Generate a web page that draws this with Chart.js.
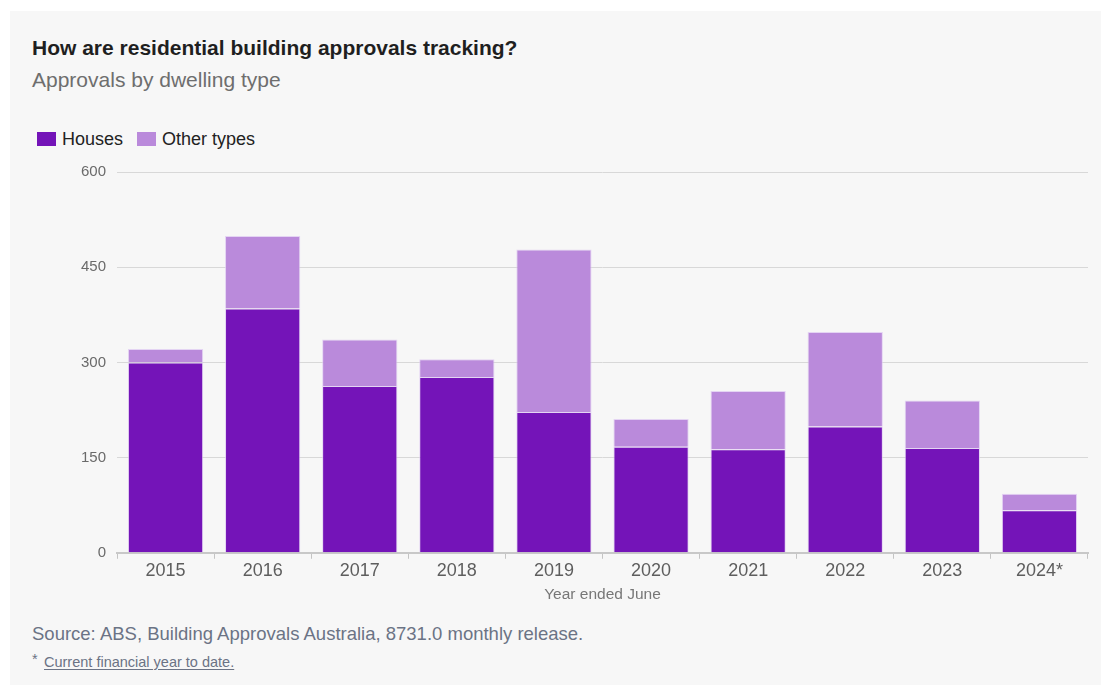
<!DOCTYPE html>
<html lang="en">
<head>
<meta charset="utf-8">
<title>Residential building approvals</title>
<script src="https://cdn.jsdelivr.net/npm/chart.js@4/dist/chart.umd.min.js"></script>
<style>
  html, body { margin: 0; padding: 0; background: #ffffff; }
  body { width: 1103px; height: 688px; position: relative; overflow: hidden;
         font-family: 'Liberation Sans', Arial, sans-serif; }
  .panel { position: absolute; left: 10px; top: 11px; width: 1091px; height: 674px; background: #f7f7f7; }
  .title { position: absolute; left: 32px; top: 36px; font-size: 21px; line-height: 24px;
           font-weight: bold; color: #1f1f1f; white-space: nowrap; }
  .subtitle { position: absolute; left: 32px; top: 68px; font-size: 21px; line-height: 24px;
              color: #6e6e6e; white-space: nowrap; }
  .legend { position: absolute; left: 37px; top: 128px; display: flex; align-items: center;
            font-size: 18px; line-height: 22px; color: #222; white-space: nowrap; }
  .legend .item { display: flex; align-items: center; margin-right: 14px; }
  .legend .swatch { width: 19px; height: 14px; margin-right: 6px; box-sizing: border-box; }
  #chart { position: absolute; left: 0; top: 150px; }
  .source { position: absolute; left: 32px; top: 622px; font-size: 18.5px; line-height: 24px;
            color: #6b7385; white-space: nowrap; }
  .note { position: absolute; left: 32px; top: 653px; font-size: 14.5px; line-height: 18px;
          color: #6b7385; white-space: nowrap; }
  .note .star { display: inline-block; width: 12px; vertical-align: top; margin-top: -3px; }
  .note u { text-underline-offset: 2px; }
</style>
</head>
<body>
<div class="panel"></div>
<div class="title">How are residential building approvals tracking?</div>
<div class="subtitle">Approvals by dwelling type</div>
<div class="legend" id="legend"></div>
<canvas id="chart" width="1103" height="460"></canvas>
<div class="source">Source: ABS, Building Approvals Australia, 8731.0 monthly release.</div>
<div class="note"><span class="star">*</span><u>Current financial year to date.</u></div>

<script>
// Financial years (year ended June); 2024 is year to date
const years = ['2015', '2016', '2017', '2018', '2019', '2020', '2021', '2022', '2023', '2024*'];

// Approvals by dwelling type
const houses     = [300, 385, 263, 277, 222, 167, 163, 199, 165, 67];
const otherTypes = [21, 114, 73, 28, 256, 44, 92, 149, 75, 26];

const yTicks = [0, 150, 300, 450, 600];

const seriesNames  = ['Houses', 'Other types'];
const seriesColors = ['#7414b8', '#ba8adb'];

Chart.defaults.font.family = "'Liberation Sans', Arial, sans-serif";

const chart = new Chart(document.getElementById('chart'), {
  type: 'bar',
  data: {
    labels: years,
    datasets: [
      { label: seriesNames[0], data: houses, backgroundColor: seriesColors[0],
        borderColor: 'rgba(222, 200, 242, 0.75)', borderWidth: 1 },
      { label: seriesNames[1], data: otherTypes, backgroundColor: seriesColors[1],
        borderColor: 'rgba(222, 200, 242, 0.75)', borderWidth: 1 }
    ]
  },
  options: {
    responsive: false,
    animation: false,
    devicePixelRatio: 1,
    layout: { padding: { left: 0, right: 15, top: 22, bottom: 6 } },
    datasets: { bar: { categoryPercentage: 1, barPercentage: 0.775 } },
    plugins: {
      legend: { display: false },
      tooltip: { enabled: false }
    },
    scales: {
      x: {
        stacked: true,
        grid: { display: true, drawOnChartArea: false, drawTicks: true, tickLength: 6, color: '#c4c4c4' },
        border: { display: true, color: '#c8c8c8', width: 2 },
        ticks: { color: '#5e5e5e', font: { size: 18 }, padding: 1 },
        title: { display: true, text: 'Year ended June', color: '#777777',
                 font: { size: 15.5 }, padding: { top: 3, bottom: 0 } }
      },
      y: {
        stacked: true,
        min: 0,
        max: 600,
        afterBuildTicks: (scale) => { scale.ticks = yTicks.map(v => ({ value: v })); },
        afterFit: (scale) => { scale.width = 117; },
        grid: { color: '#d8d8d8', lineWidth: 1, drawTicks: false },
        border: { display: false },
        ticks: { color: '#6a6a6a', font: { size: 15 }, padding: 11 }
      }
    }
  }
});

// Legend built from the chart's own datasets
const legendEl = document.getElementById('legend');
chart.data.datasets.forEach(ds => {
  const item = document.createElement('div');
  item.className = 'item';
  const sw = document.createElement('span');
  sw.className = 'swatch';
  sw.style.background = ds.backgroundColor;
  const txt = document.createElement('span');
  txt.textContent = ds.label;
  item.appendChild(sw);
  item.appendChild(txt);
  legendEl.appendChild(item);
});
</script>
</body>
</html>
